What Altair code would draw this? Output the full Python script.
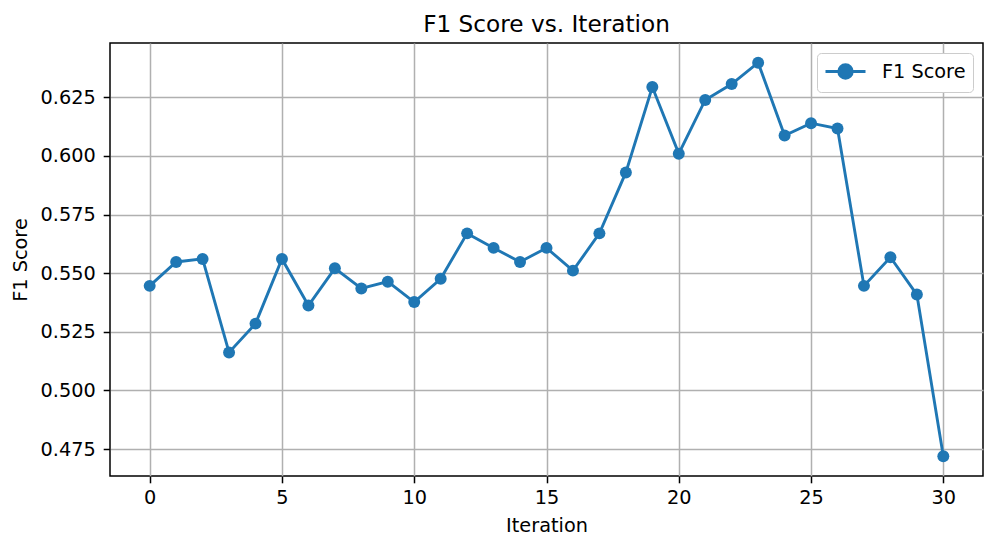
import altair as alt
import pandas as pd

iterations = list(range(31))
f1_scores = [0.5446, 0.5548, 0.5561, 0.5162, 0.5285, 0.5561, 0.5362, 0.5521, 0.5435, 0.5464,
             0.5377, 0.5476, 0.5670, 0.5608, 0.5548, 0.5608, 0.5511, 0.5670, 0.5930, 0.6294,
             0.6010, 0.6239, 0.6307, 0.6398, 0.6087, 0.6140, 0.6117, 0.5446, 0.5568, 0.5409,
             0.4719]
series_name = "F1 Score"
x_ticks = [0, 5, 10, 15, 20, 25, 30]
y_ticks = [0.475, 0.500, 0.525, 0.550, 0.575, 0.600, 0.625]

df = pd.DataFrame({"Iteration": iterations, "F1": f1_scores, "series": series_name})

FONT = "DejaVu Sans"
BLUE = "#1f77b4"

x_enc = alt.X("Iteration:Q",
              scale=alt.Scale(domain=[-1.5, 31.5], nice=False, zero=False),
              axis=alt.Axis(title="Iteration", values=x_ticks, format="d"))
y_enc = alt.Y("F1:Q",
              scale=alt.Scale(domain=[0.4635, 0.6482], nice=False, zero=False),
              axis=alt.Axis(title="F1 Score", values=y_ticks, format=".3f"))
color_enc = alt.Color("series:N",
                      scale=alt.Scale(range=[BLUE]),
                      legend=alt.Legend(
                          title=None, orient="none", legendX=707, legendY=10,
                          symbolType="M-1,0L3,0M0.325,0A0.675,0.675 0 1,1 1.675,0A0.675,0.675 0 1,1 0.325,0Z",
                          symbolSize=400, symbolStrokeWidth=2.9,
                          symbolFillColor=BLUE, symbolStrokeColor=BLUE,
                          labelFontSize=19.3, labelFont=FONT, labelColor="black",
                          labelOffset=35,
                          padding=7, cornerRadius=4, strokeColor="#cccccc",
                          fillColor="white"))

line = alt.Chart(df).mark_line(strokeWidth=2.9).encode(x=x_enc, y=y_enc, color=color_enc)
pts = alt.Chart(df).mark_circle(size=143, opacity=1).encode(x=x_enc, y=y_enc, color=color_enc)

chart = (line + pts).properties(
    width=873, height=433,
    title=alt.TitleParams("F1 Score vs. Iteration", fontSize=23.2, font=FONT,
                          fontWeight="normal", color="black", offset=6),
    autosize=alt.AutoSizeParams(type="none"),
    padding={"left": 102, "top": 35, "right": 6, "bottom": 60},
).configure_view(
    stroke="black", strokeWidth=1.5
).configure_axis(
    labelFont=FONT, titleFont=FONT, labelFontSize=19.3, titleFontSize=19.3,
    labelColor="black", titleColor="black", titleFontWeight="normal",
    grid=True, gridColor="#b0b0b0", gridWidth=1.5,
    domain=False, tickColor="black", tickSize=6.8, tickWidth=1.5, labelPadding=6,
).configure_axisX(
    titlePadding=8
).configure_axisY(
    titlePadding=10, labelPadding=8
)

chart.save("out.html", embed_options={"renderer": "svg", "actions": False})
